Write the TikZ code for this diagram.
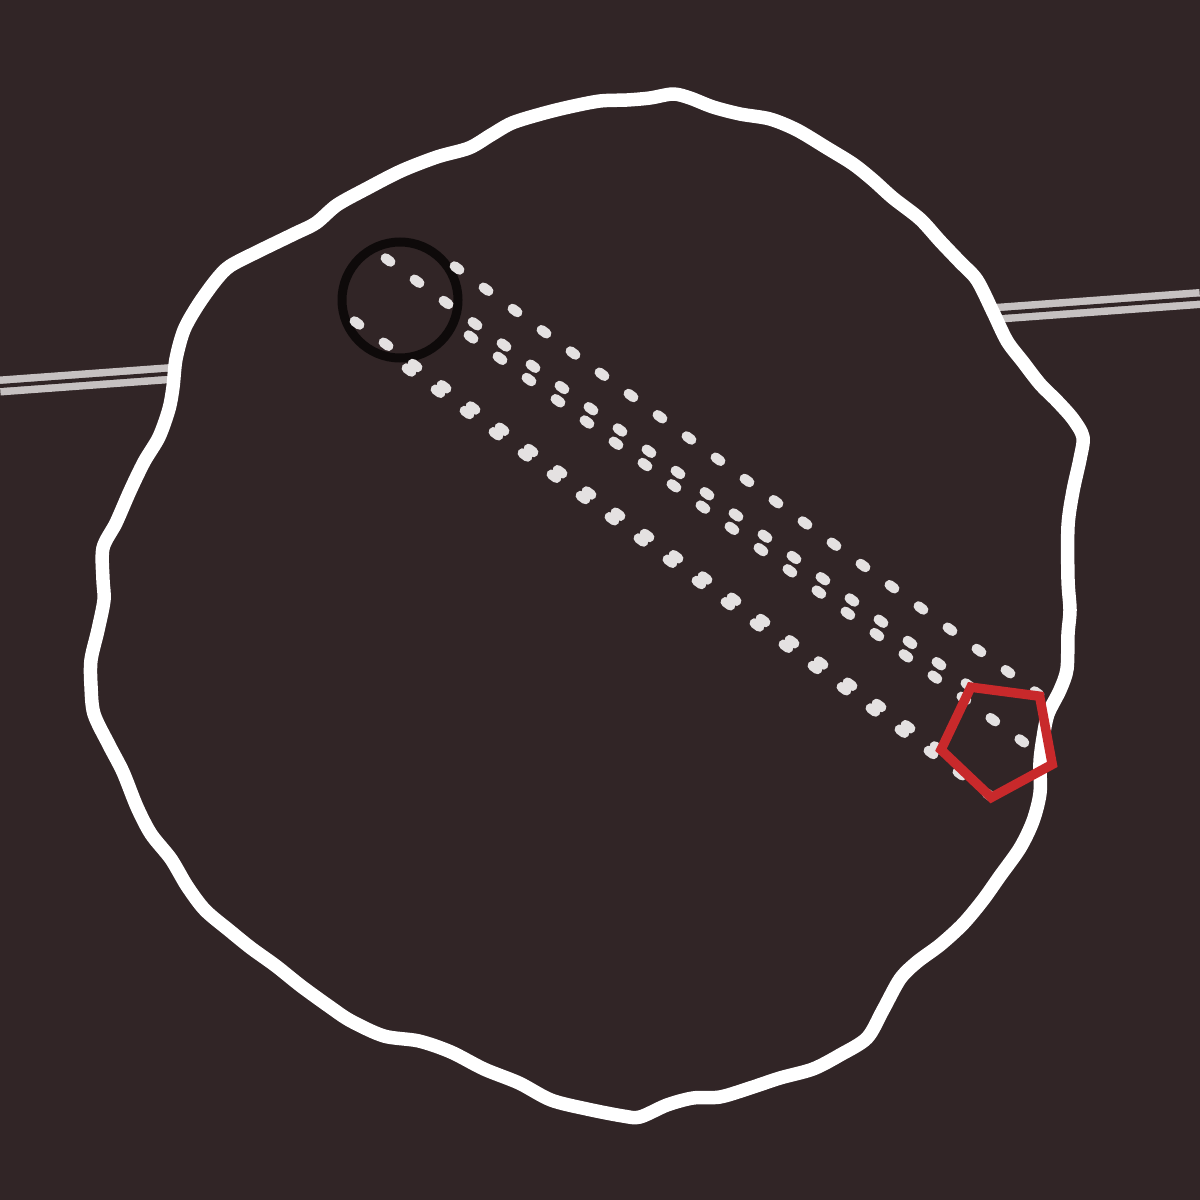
\documentclass[tikz,border=0pt]{standalone}
\usetikzlibrary{shapes.geometric}
\definecolor{night}{RGB}{49,37,38}
\definecolor{railgrey}{RGB}{198,193,193}
\definecolor{dotgrey}{RGB}{228,225,225}
\definecolor{ringblack}{RGB}{14,10,10}
\definecolor{penred}{RGB}{200,41,43}
\begin{document}
\begin{tikzpicture}[x=0.1mm, y=-0.1mm,
        rim/.style={draw=white, line width=1.35mm, fill=night, line join=round},
        rail/.style={draw=railgrey, line width=0.75mm, double=night, double distance=0.4mm},
        trail/.style={draw=dotgrey, line width=1mm, line cap=round, dash pattern=on 0.6mm off 2.995mm, shorten <=-0.3mm, shorten >=-0.3mm}]
        \useasboundingbox (0, 0) rectangle (1200, 1200);
        \fill[night] (0, 0) rectangle (1200, 1200);
        % rail behind the disc
        \coordinate (railW) at (0, 386);
        \coordinate (railE) at (1200, 298.5);
        \draw[rail] (railW) -- (railE);
        % wobbly disc
        \draw[rim] plot[smooth cycle] coordinates {
            (600,101) (627,100) (650,98) (673,94) (690,98) (713,107) (740,114) (770,119)
            (797,130) (827,148) (853,164) (873,180) (893,198) (920,219) (940,241) (960,262)
            (977,280) (993,312) (1007,341) (1023,362) (1040,384) (1057,401) (1073,419) (1083,437)
            (1080,459) (1073,491) (1068,526) (1068,580) (1070,610) (1068,634) (1067,669) (1060,690)
            (1048,714) (1043,738) (1040,762) (1040,793) (1033,821) (1020,848) (1000,876) (983,900)
            (963,924) (940,945) (917,962) (900,979) (883,1010) (867,1038) (840,1055) (813,1069)
            (780,1078) (750,1088) (720,1097) (693,1098) (667,1105) (640,1117) (623,1116) (587,1109)
            (551,1100) (519,1083) (484,1069) (451,1052) (419,1041) (384,1036) (351,1021) (330,1007)
            (301,986) (276,966) (251,948) (230,931) (205,910) (187,886) (171,859) (151,834)
            (137,807) (123,772) (109,745) (94,714) (91,686) (91,660) (98,630) (104,600)
            (103,580) (103,548) (116,523) (130,491) (144,462) (159,437) (169,409) (173,387)
            (176,359) (184,330) (198,305) (216,280) (230,266) (259,251) (294,234) (316,223)
            (337,205) (366,189) (401,171) (437,157) (469,148) (491,135) (512,123) (541,114)
            (569,107)};
        % black ring
        \node[circle, draw=ringblack, line width=0.9mm, inner sep=0, minimum size=11.6mm] (ring) at (400, 300) {};
        % dotted trails
        \coordinate (t1s) at (457, 268);  \coordinate (t1e) at (1037, 693);
        \coordinate (t2s) at (388, 260);  \coordinate (t2e) at (968, 685);
        \coordinate (t3s) at (471, 337);  \coordinate (t3e) at (1022, 741);
        \coordinate (t4s) at (357, 323);  \coordinate (t4e) at (937, 748);
        \coordinate (t5s) at (409, 370);  \coordinate (t5e) at (989, 795);
        \foreach \i in {1,...,5}
            \draw[trail] (t\i s) -- (t\i e);
        % red pentagon
        \node[regular polygon, regular polygon sides=5, draw=penred, line width=0.95mm, inner sep=0, minimum size=11.8mm, rotate=28.5, line join=miter] (pent) at (999, 739) {};
    \end{tikzpicture}
\end{document}
